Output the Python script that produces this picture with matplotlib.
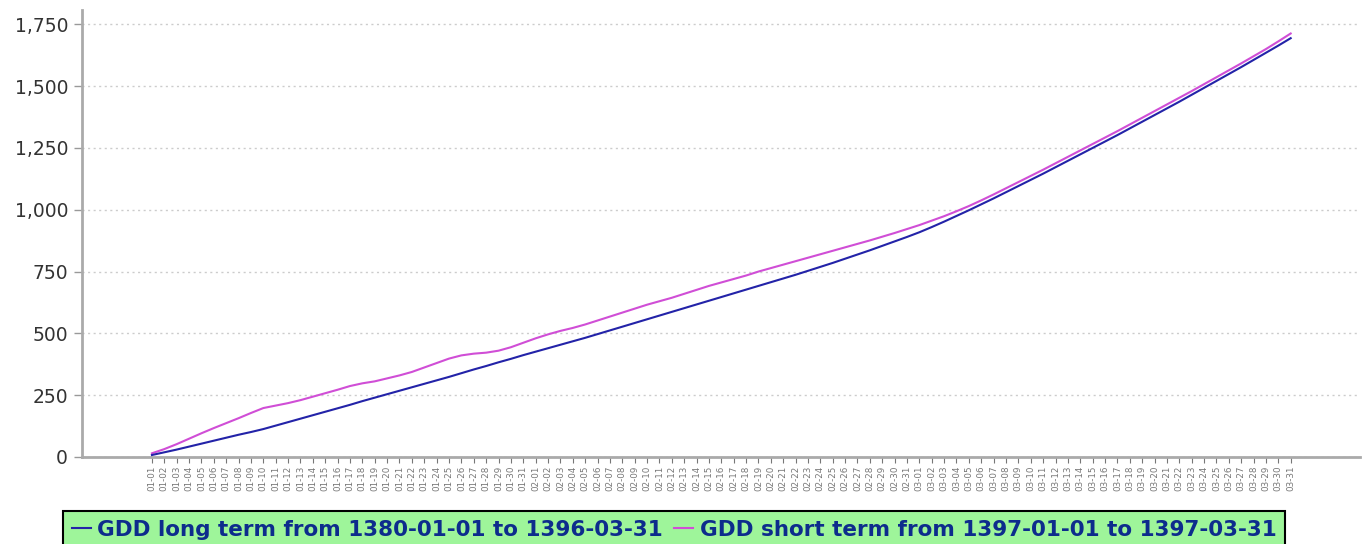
import matplotlib
matplotlib.use("Agg")
import matplotlib.pyplot as plt
from matplotlib.lines import Line2D
from matplotlib.ticker import FuncFormatter

# day labels (month-day), three 31-day months
days = [f"{m:02d}-{d:02d}" for m in (1, 2, 3) for d in range(1, 32)]

# GDD long term (1380-01-01 to 1396-03-31)
gdd_long = [8, 19, 30, 42, 54, 66, 78, 90, 101, 113,
            127, 141, 155, 169, 183, 197, 211, 226, 240, 254,
            268, 282, 296, 310, 324, 339, 354, 368, 383, 397,
            412, 426, 440, 454, 468, 482, 497, 512, 527, 542,
            557, 572, 587, 602, 617, 632, 647, 662, 677, 692,
            707, 722, 737, 753, 769, 785, 802, 819, 836, 854,
            872, 890, 909, 930, 952, 975, 998, 1022, 1046, 1071,
            1096, 1121, 1146, 1172, 1198, 1224, 1250, 1276, 1302, 1329,
            1356, 1383, 1410, 1437, 1465, 1493, 1521, 1549, 1577, 1606,
            1635, 1664, 1694]

# GDD short term (1397-01-01 to 1397-03-31)
gdd_short = [15, 32, 52, 74, 96, 117, 137, 157, 178, 198,
             208, 218, 230, 244, 258, 272, 287, 298, 306, 318,
             330, 344, 362, 380, 398, 411, 418, 422, 430, 444,
             462, 480, 496, 510, 522, 536, 552, 568, 584, 600,
             616, 630, 644, 660, 676, 692, 706, 720, 734, 750,
             764, 778, 792, 806, 820, 834, 848, 862, 876, 891,
             906, 922, 938, 956, 974, 994, 1015, 1038, 1062, 1087,
             1112, 1137, 1162, 1188, 1214, 1240, 1266, 1292, 1318, 1345,
             1372, 1399, 1426, 1453, 1480, 1508, 1536, 1564, 1592, 1621,
             1650, 1681, 1713]

label_long = "GDD long term from 1380-01-01 to 1396-03-31"
label_short = "GDD short term from 1397-01-01 to 1397-03-31"
col_long = "#2323a8"
col_short = "#d04ed6"

fig = plt.figure(figsize=(13.66, 5.44), dpi=100)
ax = fig.add_axes([82 / 1366, 1 - 457 / 544, (1360 - 82) / 1366, (457 - 10) / 544])

x = list(range(len(days)))
ax.plot(x, gdd_long, color=col_long, lw=1.5, zorder=3)
ax.plot(x, gdd_short, color=col_short, lw=1.5, zorder=2)

ax.set_xlim(-5.65, 97.6)
ax.set_ylim(0, 1808)

ax.set_yticks([0, 250, 500, 750, 1000, 1250, 1500, 1750])
ax.yaxis.set_major_formatter(FuncFormatter(lambda v, p: f"{int(v):,}"))
ax.tick_params(axis="y", labelsize=13.5, labelcolor="#333333", color="#999999",
               length=6, width=1, pad=4)
ax.set_xticks(x)
ax.set_xticklabels(days, rotation=90, fontsize=6.3, color="#777777")
ax.tick_params(axis="x", color="#777777", length=4, width=0.8, pad=2)

ax.grid(axis="y", linestyle=(0, (1.5, 2.5)), color="#cccccc", lw=1)
ax.set_axisbelow(True)

for s in ("top", "right"):
    ax.spines[s].set_visible(False)
for s in ("left", "bottom"):
    ax.spines[s].set_color("#aaaaaa")
    ax.spines[s].set_linewidth(2)

handles = [Line2D([], [], color=col_long, lw=1.5),
           Line2D([], [], color=col_short, lw=1.5)]
leg = fig.legend(handles, [label_long, label_short], loc="upper left",
                 bbox_to_anchor=(63 / 1366, 1 - 511 / 544), ncol=2,
                 borderaxespad=0, frameon=True, fancybox=False,
                 facecolor="#9ef59a", edgecolor="black", framealpha=1,
                 borderpad=0.4, handlelength=0.9, handletextpad=0.3,
                 columnspacing=0.5, prop={"size": 15.5, "weight": "bold"})
leg.get_frame().set_linewidth(1.5)
for t in leg.get_texts():
    t.set_color("#0d2c8c")

fig.savefig("out.png", dpi=100)
